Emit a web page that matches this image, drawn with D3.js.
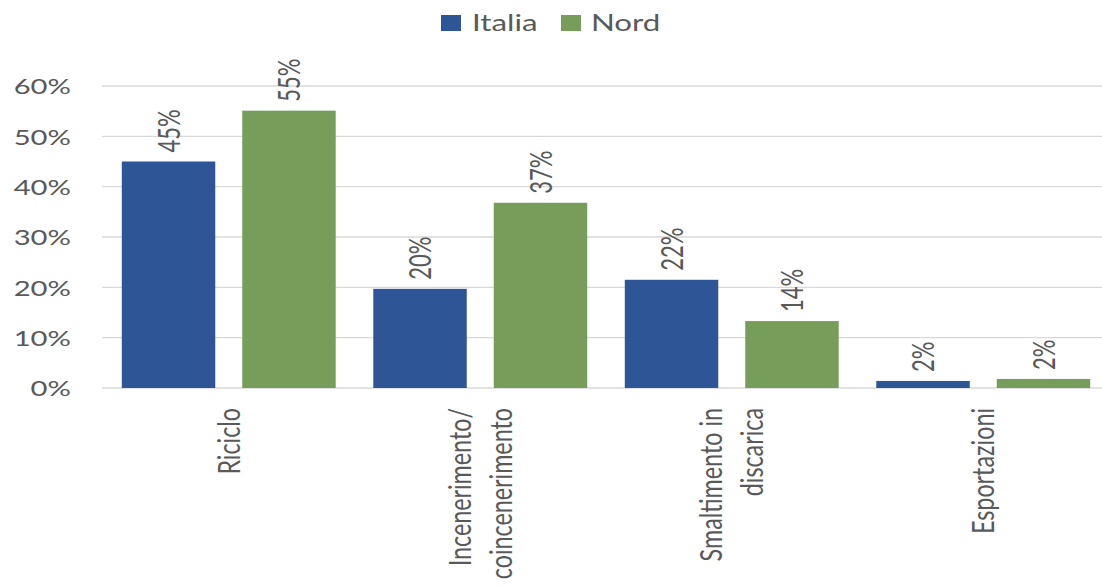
<!DOCTYPE html>
<html>
<head>
<meta charset="utf-8">
<script src="https://cdn.jsdelivr.net/npm/d3@7"></script>
<style>
  html, body { margin: 0; padding: 0; background: #ffffff; }
  svg { display: block; }
  text { font-family: Lato, "Open Sans", sans-serif; fill: #595959; }
</style>
</head>
<body>
<svg id="chart" width="1102" height="586"></svg>
<script>
// ---- data ----
const categories = [["Riciclo"], ["Incenerimento/", "coincenerimento"], ["Smaltimento in", "discarica"], ["Esportazioni"]];
const seriesNames = ["Italia", "Nord"];
const italia = [0.45, 0.197, 0.215, 0.014];
const nord = [0.551, 0.368, 0.133, 0.018];
const italiaLabels = ["45%", "20%", "22%", "2%"];
const nordLabels = ["55%", "37%", "14%", "2%"];
const yTicks = [0, 0.1, 0.2, 0.3, 0.4, 0.5, 0.6];
const colors = ["#2E5596", "#769D5A"];

// ---- layout (display px); the whole picture is stretched horizontally ----
const W = 1102, H = 586;
const SX = 1.36;
const svg = d3.select("#chart");
const g = svg.append("g").attr("transform", `scale(${SX},1)`);
const ux = v => v / SX; // display x -> unscaled x

const y = d3.scaleLinear().domain([0, 0.6]).range([388, 86]);
const catIdx = d3.range(categories.length);
const x0 = d3.scaleBand().domain(catIdx).range([ux(103), ux(1109)]).padding(0);
const x1 = d3.scaleBand().domain(seriesNames).range([0, x0.bandwidth()])
  .paddingInner(0.224).paddingOuter(0.156);

// gridlines
g.append("g").selectAll("line").data(yTicks).join("line")
  .attr("x1", ux(102)).attr("x2", ux(W))
  .attr("y1", d => y(d)).attr("y2", d => y(d))
  .attr("stroke", "#D9D9D9").attr("stroke-width", 1.3);

// y tick labels
g.append("g").selectAll("text").data(yTicks).join("text")
  .attr("x", ux(71)).attr("y", d => y(d))
  .attr("text-anchor", "end").attr("dominant-baseline", "central")
  .style("font-size", "21.5px")
  .text(d => Math.round(d * 100) + "%");

// bars
const series = [
  { name: "Italia", values: italia, labels: italiaLabels, color: colors[0] },
  { name: "Nord", values: nord, labels: nordLabels, color: colors[1] }
];
series.forEach(s => {
  const sg = g.append("g");
  sg.selectAll("rect").data(s.values).join("rect")
    .attr("x", (d, i) => x0(i) + x1(s.name))
    .attr("width", x1.bandwidth())
    .attr("y", d => y(d))
    .attr("height", d => y(0) - y(d))
    .attr("fill", s.color);
  sg.selectAll("text").data(s.values).join("text")
    .attr("transform", (d, i) => `translate(${x0(i) + x1(s.name) + x1.bandwidth() / 2},${y(d) - 9}) rotate(-90)`)
    .attr("text-anchor", "start").attr("dominant-baseline", "central")
    .style("font-size", "22px")
    .text((d, i) => s.labels[i]);
});

// category labels (rotated)
const CAT_STRETCH = 1.06;
const lineGap = ux(41);
const cg = g.append("g");
categories.forEach((lines, i) => {
  const cx = x0(i) + x0.bandwidth() / 2;
  lines.forEach((ln, j) => {
    const off = (j - (lines.length - 1) / 2) * lineGap;
    cg.append("text")
      .attr("transform", `translate(${cx + off},408) rotate(-90) scale(${CAT_STRETCH},1)`)
      .attr("text-anchor", "end").attr("dominant-baseline", "central")
      .style("font-size", "22px").style("font-weight", 400)
      .text(ln);
  });
});

// legend
const legendPos = [{ sq: 441, tx: 472 }, { sq: 561, tx: 591 }];
const lg = g.append("g");
seriesNames.forEach((n, i) => {
  lg.append("rect").attr("x", ux(legendPos[i].sq)).attr("y", 15)
    .attr("width", ux(20)).attr("height", 16).attr("fill", colors[i]);
  lg.append("text").attr("x", ux(legendPos[i].tx)).attr("y", 31)
    .style("font-size", "23px").text(n);
});
</script>
</body>
</html>
